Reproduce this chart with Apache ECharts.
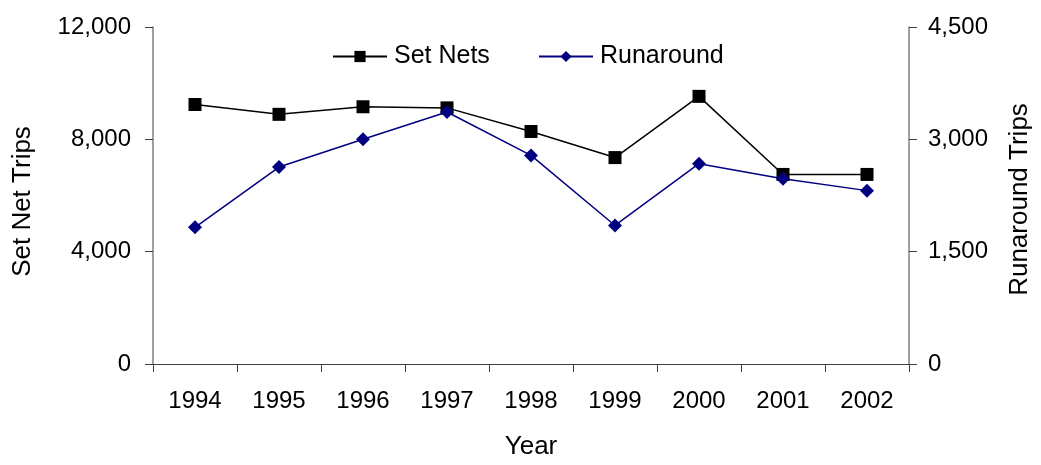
<!DOCTYPE html>
<html>
<head>
<meta charset="utf-8">
<script src="https://cdn.jsdelivr.net/npm/echarts@6/dist/echarts.min.js"></script>
<style>
  html, body { margin: 0; padding: 0; background: #fff; }
  #chart { width: 1041px; height: 465px; }
</style>
</head>
<body>
<div id="chart"></div>
<script>
// Annual trips by gear type
var years = ['1994', '1995', '1996', '1997', '1998', '1999', '2000', '2001', '2002'];
var setNetTrips = [9240, 8890, 9160, 9120, 8280, 7350, 9530, 6750, 6750];
var runaroundTrips = [1825, 2630, 3000, 3365, 2785, 1850, 2675, 2475, 2315];

var font = 'Liberation Sans, Arial, sans-serif';
var tickFs = 24;   // tick labels
var titleFs = 26;  // axis titles
var legendFs = 25;
var chart = echarts.init(document.getElementById('chart'), null, { renderer: 'canvas' });

function thousands(v) { return v.toLocaleString('en-US'); }

function legendAt(name, left) {
  return {
    top: 39,
    left: left,
    itemWidth: 54,
    itemHeight: 14,
    textStyle: { fontFamily: font, fontSize: legendFs, color: '#000', padding: [0, 0, 0, 2] },
    data: [name]
  };
}

chart.setOption({
  animation: false,
  backgroundColor: '#ffffff',
  textStyle: { fontFamily: font },
  grid: { left: 153, right: 120, top: 27, bottom: 92 },
  legend: [legendAt('Set Nets', 327), legendAt('Runaround', 533)],
  xAxis: {
    type: 'category',
    data: years,
    boundaryGap: true,
    name: 'Year',
    nameLocation: 'middle',
    nameGap: 70,
    nameTextStyle: { fontFamily: font, fontSize: titleFs, color: '#000' },
    axisLine: { lineStyle: { color: '#404040', width: 1 } },
    axisTick: { show: true, length: 8, lineStyle: { color: '#404040' } },
    axisLabel: { fontFamily: font, fontSize: tickFs, color: '#000', margin: 25 },
    splitLine: { show: false }
  },
  yAxis: [
    {
      type: 'value',
      min: 0, max: 12000, interval: 4000,
      name: 'Set Net Trips',
      nameLocation: 'middle',
      nameGap: 117,
      nameRotate: 90,
      nameTextStyle: { fontFamily: font, fontSize: titleFs, color: '#000', padding: [0, 12, 0, 0] },
      axisLine: { show: true, lineStyle: { color: '#808080', width: 1.5 } },
      axisTick: { show: true, length: 8, lineStyle: { color: '#404040' } },
      axisLabel: { fontFamily: font, fontSize: tickFs, color: '#000', margin: 22, formatter: thousands },
      splitLine: { show: false }
    },
    {
      type: 'value',
      min: 0, max: 4500, interval: 1500,
      name: 'Runaround Trips',
      nameLocation: 'middle',
      nameGap: 98,
      nameRotate: 90,
      nameTextStyle: { fontFamily: font, fontSize: titleFs, color: '#000', padding: [0, 8, 0, 0] },
      axisLine: { show: true, lineStyle: { color: '#808080', width: 1.5 } },
      axisTick: { show: true, length: 8, lineStyle: { color: '#404040' } },
      axisLabel: { fontFamily: font, fontSize: tickFs, color: '#000', margin: 19, formatter: thousands },
      splitLine: { show: false }
    }
  ],
  series: [
    {
      name: 'Set Nets',
      type: 'line',
      yAxisIndex: 0,
      data: setNetTrips,
      symbol: 'rect',
      symbolSize: 13,
      itemStyle: { color: '#000000' },
      lineStyle: { color: '#000000', width: 1.5 }
    },
    {
      name: 'Runaround',
      type: 'line',
      yAxisIndex: 1,
      data: runaroundTrips,
      symbol: 'diamond',
      symbolSize: 14,
      itemStyle: { color: '#000080' },
      lineStyle: { color: '#000080', width: 1.5 }
    }
  ]
});
</script>
</body>
</html>
